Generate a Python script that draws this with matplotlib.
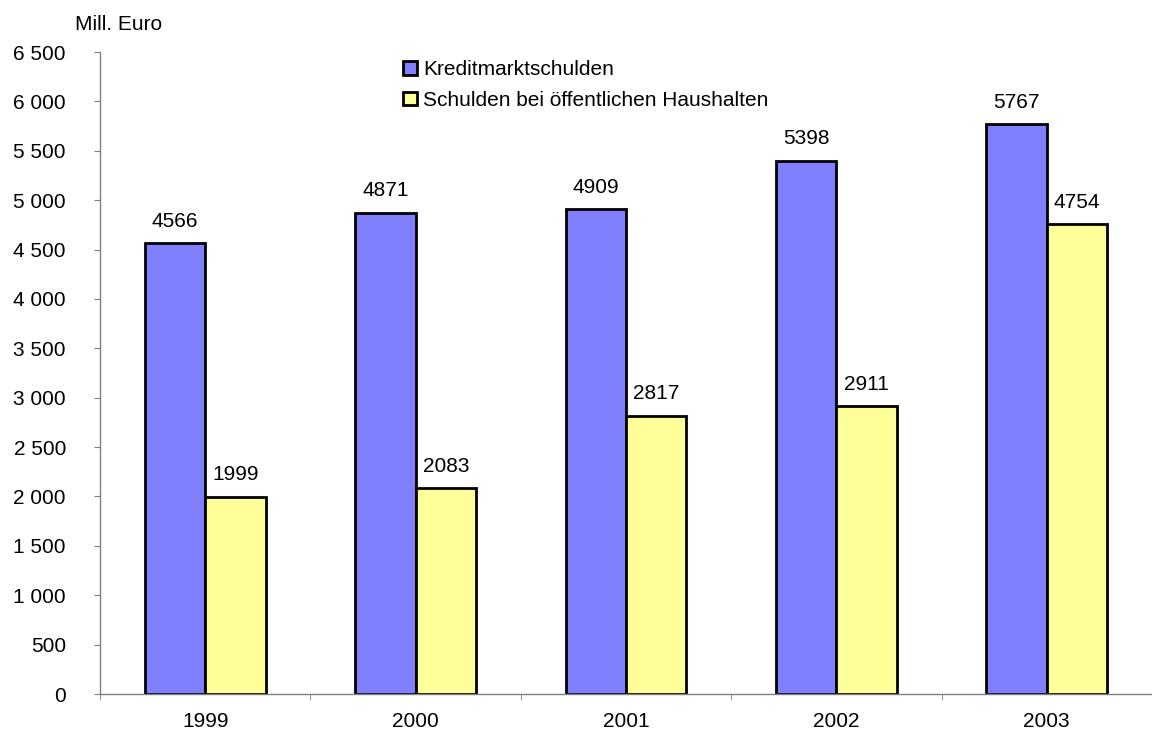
import matplotlib
matplotlib.use("Agg")
import matplotlib.pyplot as plt
import numpy as np

years = ["1999", "2000", "2001", "2002", "2003"]
kredit = [4566, 4871, 4909, 5398, 5767]
oeffentlich = [1999, 2083, 2817, 2911, 4754]
series_names = ["Kreditmarktschulden", "Schulden bei öffentlichen Haushalten"]
yticks = list(range(0, 6501, 500))

FS = 15
plt.rcParams['font.family'] = ['Liberation Sans', 'DejaVu Sans']
fig = plt.figure(figsize=(11.52, 7.33), dpi=100)
W, H = 1152, 733
ax = fig.add_axes([100 / W, (H - 694) / H, 1 - 100 / W, (694 - 52) / H])

x = np.arange(len(years))
bw = 0.287
b1 = ax.bar(x - bw / 2, kredit, bw, color="#8080FF", edgecolor="black", linewidth=2, label=series_names[0])
b2 = ax.bar(x + bw / 2, oeffentlich, bw, color="#FFFF99", edgecolor="black", linewidth=2, label=series_names[1])

for rects, vals in ((b1, kredit), (b2, oeffentlich)):
    for r, v in zip(rects, vals):
        ax.annotate(str(v), (r.get_x() + r.get_width() / 2, v), xytext=(0, 9),
                    textcoords="offset points", ha="center", va="bottom", fontsize=FS)

ax.set_ylim(0, 6500)
ax.set_xlim(-0.5, (1152 - 100) / 212.7 - 0.5)
ax.set_yticks(yticks)
ax.set_yticklabels([f"{t:,}".replace(",", " ") for t in yticks], fontsize=FS)
ax.set_xticks(x)
ax.set_xticklabels(years, fontsize=FS)
ax.tick_params(axis="x", length=0, pad=13)
ax.set_xticks(np.arange(-0.5, len(years) + 0.5, 1), minor=True)
ax.tick_params(axis="x", which="minor", length=4.5, color="#808080", direction="out")
ax.tick_params(axis="y", length=4.5, color="#808080", direction="out", pad=20)

for s in ("top", "right"):
    ax.spines[s].set_visible(False)
for s in ("left", "bottom"):
    ax.spines[s].set_color("#808080")
    ax.spines[s].set_linewidth(1)

fig.text(75 / W, 1 - 25 / H, "Mill. Euro", fontsize=FS, va="center", ha="left")

leg = fig.legend(handles=[b1, b2], loc="upper left", bbox_to_anchor=(395 / W, 1 - 52 / H),
                 frameon=False, fontsize=FS, handlelength=0.65, handleheight=0.65,
                 handletextpad=0.3, labelspacing=0.55, borderaxespad=0)

fig.savefig("out.png", dpi=100)
